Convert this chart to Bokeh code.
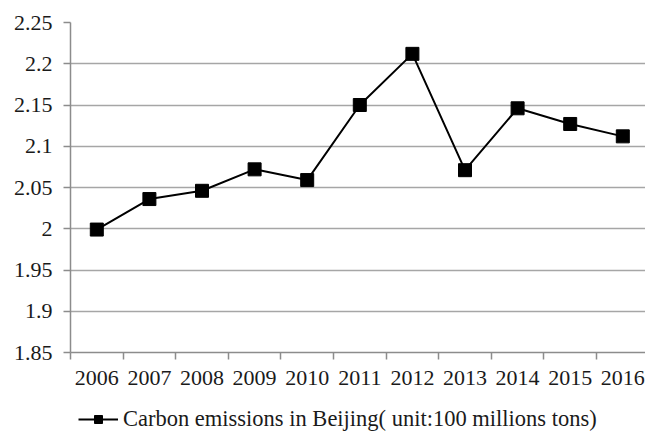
from bokeh.plotting import figure
from bokeh.layouts import column
from bokeh.models import FixedTicker, NumeralTickFormatter, Legend, LegendItem, Range1d
from bokeh.embed import file_html
from bokeh.resources import INLINE

# Annual carbon emissions in Beijing (unit: 100 million tons)
years = [2006, 2007, 2008, 2009, 2010, 2011, 2012, 2013, 2014, 2015, 2016]
emissions = [1.999, 2.036, 2.046, 2.072, 2.059, 2.150, 2.212, 2.071, 2.146, 2.127, 2.112]
y_ticks = [1.85, 1.9, 1.95, 2.0, 2.05, 2.1, 2.15, 2.2, 2.25]
series_label = "Carbon emissions in Beijing( unit:100 millions tons)"

FONT = "Liberation Serif"
AXIS_GREY = "#8c8c8c"
GRID_GREY = "#a6a6a6"
TEXT = "#1a1a1a"
LINE_STYLE = dict(line_color="black", line_width=2)
MARKER_STYLE = dict(marker="square", size=13, fill_color="black", line_color="black")

# ---- main chart ----
p = figure(
    width=645, height=400,
    output_backend="svg", toolbar_location=None,
    x_range=Range1d(years[0] - 0.5, years[0] - 0.5 + 575 / 52.6),
    y_range=Range1d(1.85, 2.25),
    min_border_left=70, min_border_right=0,
    min_border_top=22, min_border_bottom=48,
)
p.outline_line_color = None
p.background_fill_color = "white"
p.border_fill_color = "white"

p.line(years, emissions, **LINE_STYLE)
p.scatter(years, emissions, **MARKER_STYLE)

# x axis: labels centred on each year, tick marks on the boundaries between years
xa = p.xaxis[0]
xa.ticker = FixedTicker(ticks=years, minor_ticks=[y - 0.5 for y in years] + [years[-1] + 0.5])
xa.major_tick_line_color = None
xa.minor_tick_line_color = AXIS_GREY
xa.minor_tick_line_width = 1.5
xa.minor_tick_out = 7
xa.minor_tick_in = 0
xa.axis_line_color = AXIS_GREY
xa.axis_line_width = 1.5
xa.major_label_text_font = FONT
xa.major_label_text_font_size = "22px"
xa.major_label_text_color = TEXT
xa.major_label_standoff = 11

ya = p.yaxis[0]
ya.ticker = FixedTicker(ticks=y_ticks)
ya.formatter = NumeralTickFormatter(format="0.[00]")
ya.minor_tick_line_color = None
ya.major_tick_line_color = AXIS_GREY
ya.major_tick_line_width = 1.5
ya.major_tick_out = 7
ya.major_tick_in = 0
ya.axis_line_color = AXIS_GREY
ya.axis_line_width = 1.5
ya.major_label_text_font = FONT
ya.major_label_text_font_size = "22px"
ya.major_label_text_color = TEXT
ya.major_label_standoff = 11

p.xgrid.grid_line_color = None
p.ygrid.grid_line_color = GRID_GREY
p.ygrid.grid_line_width = 1.5

# ---- legend strip under the chart ----
# The key renderers reuse the series but sit outside this strip's visible range,
# so only the legend itself is seen.
leg = figure(
    width=645, height=32,
    output_backend="svg", toolbar_location=None,
    x_range=Range1d(0, 1), y_range=Range1d(0, 1),
    min_border_left=0, min_border_right=0, min_border_top=0, min_border_bottom=0,
)
leg.axis.visible = False
leg.grid.visible = False
leg.outline_line_color = None
key_line = leg.line(years, emissions, **LINE_STYLE)
key_marker = leg.scatter(years, emissions, **MARKER_STYLE)

legend = Legend(
    items=[LegendItem(label=series_label, renderers=[key_line, key_marker])],
    location=(8, 0),
    orientation="horizontal",
    glyph_width=40, glyph_height=20,
    label_standoff=5, padding=0, margin=0, spacing=0,
    border_line_color=None, background_fill_alpha=0,
    label_text_font=FONT, label_text_font_size="22.5px",
    label_text_color=TEXT,
)
leg.add_layout(legend, "center")

open("out.html", "w").write(file_html(column(p, leg, spacing=0), INLINE))
